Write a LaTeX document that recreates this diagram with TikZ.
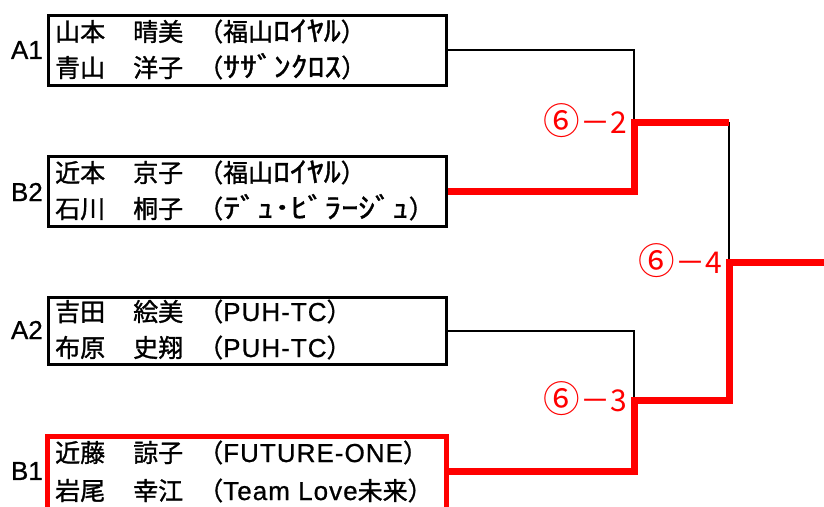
\documentclass[tikz,border=0pt]{standalone}
\usepackage{fontspec}
\setmainfont[FakeBold=1.2]{Noto Sans CJK JP}
\newfontfamily\scfont{Noto Sans CJK JP}
\newfontfamily\lat[FakeBold=0.8,LetterSpace=4]{Liberation Sans}
\newfontfamily\seedfont[FakeBold=0.8]{Liberation Sans}
\newcommand{\hk}[1]{\scalebox{1.35}[1.12]{#1}}
\newcommand{\ci}[1]{\raisebox{-0.06em}{\scalebox{1.22}{#1}}}
\begin{document}
\begin{tikzpicture}[x=1pt,y=-1pt,
  box/.style={draw=black,line width=3pt,rectangle,inner sep=0pt,minimum width=398pt},
  winbox/.style={draw=red,line width=5pt,rectangle,inner sep=0pt,minimum width=399pt},
  nm/.style={anchor=base west,inner sep=0pt,font=\fontsize{25}{28}\selectfont},
  seed/.style={anchor=east,inner sep=0pt,font=\fontsize{26}{28}\selectfont\seedfont},
  score/.style={anchor=east,inner sep=0pt,text=red,font=\fontsize{30}{34}\selectfont\scfont},
  thin/.style={draw=black,line width=2pt},
  win/.style={draw=red,line width=7pt,line join=miter}]
\useasboundingbox (0,0) rectangle (824,506);
\begin{scope}
\clip (0,0) rectangle (824,506);
% boxes
\node[box,minimum height=70pt] (A1) at (247,50) {};
\node[box,minimum height=70pt] (B2) at (247,191) {};
\node[box,minimum height=67pt] (A2) at (247,330.5) {};
\node[winbox,minimum height=110pt] (B1) at (246.5,491) {};
% seeds
\node[seed] (sA1) at (43,50) {A1};
\node[seed] (sB2) at (43,192) {B2};
\node[seed] (sA2) at (43,330) {A2};
\node[seed] (sB1) at (43,471) {B1};
% names
\newcommand{\pl}[3]{\makebox[78pt][l]{#1}\makebox[65pt][l]{#2}#3}
\node[nm] (n1) at (55,41) {\pl{山本}{晴美}{（福山\hk{ﾛｲﾔﾙ}）}};
\node[nm] (n2) at (55,77) {\pl{青山}{洋子}{（\hk{ｻｻﾞﾝｸﾛｽ}）}};
\node[nm] (n3) at (55,182) {\pl{近本}{京子}{（福山\hk{ﾛｲﾔﾙ}）}};
\node[nm] (n4) at (55,218) {\pl{石川}{桐子}{（\hk{ﾃﾞｭ･ﾋﾞﾗｰｼﾞｭ}）}};
\node[nm] (n5) at (55,321) {\pl{吉田}{絵美}{（{\lat\fontsize{26}{28}\selectfont PUH-TC}）}};
\node[nm] (n6) at (55,357) {\pl{布原}{史翔}{（{\lat\fontsize{26}{28}\selectfont PUH-TC}）}};
\node[nm] (n7) at (55,462) {\pl{近藤}{諒子}{（{\lat\fontsize{26}{28}\selectfont FUTURE-ONE}）}};
\node[nm] (n8) at (55,500) {\pl{岩尾}{幸江}{（{\lat\fontsize{26}{28}\selectfont Team Love}未来）}};
% junctions
\coordinate (b1o) at (446,471);
\coordinate (m1) at (634,122);
\coordinate (m2) at (634,400);
\coordinate (r1) at (729,122);
\coordinate (f) at (729,262);
\coordinate (out) at (824,262);
% black connectors
\draw[thin] (A1.east) -- (A1.east -| m1) -- (m1);
\draw[thin] (A2.east) -- (A2.east -| m2) -- (m2);
\draw[thin] (r1) -- (f);
% red connectors
\draw[win] (B2.east) -- (B2.east -| m1) -- (m1) -- (r1);
\draw[win] (b1o) -- (b1o -| m2) -- (m2) -- (m2 -| f) -- (f) -- (out);
\end{scope}
% scores
\node[score] (s1) at (627,121) {\ci{⑥}－2};
\node[score] (s2) at (722,261) {\ci{⑥}－4};
\node[score] (s3) at (627,399) {\ci{⑥}－3};
\end{tikzpicture}
\end{document}
